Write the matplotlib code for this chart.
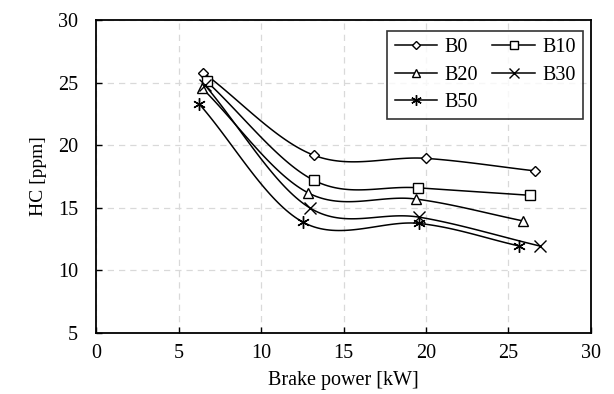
import matplotlib
matplotlib.use("Agg")
import matplotlib.pyplot as plt
import numpy as np

plt.rcParams['font.family'] = ['Liberation Serif', 'DejaVu Serif']
plt.rcParams['font.size'] = 13.5

series = ["B0", "B10", "B20", "B30", "B50"]
markers = ["D", "s", "^", "x", (6, 2, 0)]
power = {
    "B0":  [6.5, 13.2, 20.0, 26.6],
    "B10": [6.7, 13.2, 19.5, 26.3],
    "B20": [6.4, 12.85, 19.4, 25.9],
    "B30": [6.6, 12.95, 19.6, 26.9],
    "B50": [6.25, 12.55, 19.6, 25.65],
}
hc = {
    "B0":  [25.8, 19.2, 18.95, 17.95],
    "B10": [25.1, 17.2, 16.6, 16.0],
    "B20": [24.6, 16.2, 15.7, 13.95],
    "B30": [24.8, 15.0, 14.25, 11.95],
    "B50": [23.3, 13.85, 13.75, 11.95],
}


def smooth(x, y, n=40):
    # Excel-like smoothed line (Catmull-Rom through the points)
    x = np.asarray(x, float)
    y = np.asarray(y, float)
    px = np.concatenate([[2 * x[0] - x[1]], x, [2 * x[-1] - x[-2]]])
    py = np.concatenate([[2 * y[0] - y[1]], y, [2 * y[-1] - y[-2]]])
    xs, ys = [], []
    t = np.linspace(0, 1, n)
    for i in range(1, len(px) - 2):
        for p, out in ((px, xs), (py, ys)):
            p0, p1, p2, p3 = p[i - 1], p[i], p[i + 1], p[i + 2]
            c1 = p1 + (p2 - p0) / 6
            c2 = p2 - (p3 - p1) / 6
            out.append((1 - t) ** 3 * p1 + 3 * (1 - t) ** 2 * t * c1
                       + 3 * (1 - t) * t ** 2 * c2 + t ** 3 * p2)
    return np.concatenate(xs), np.concatenate(ys)


fig = plt.figure(figsize=(6.14, 3.94), dpi=100)
ax = fig.add_axes([0.1564, 0.1548, 0.8061, 0.7944])

handles = {}
sizes = {"B0": 5, "B10": 7, "B20": 7, "B30": 8, "B50": 9}
for s, m in zip(series, markers):
    sx, sy = smooth(power[s], hc[s])
    ax.plot(sx, sy, color='black', lw=1.1)
    ms = sizes[s]
    ax.plot(power[s], hc[s], linestyle='none', marker=m, ms=ms,
            mfc='white', mec='black', mew=1.0)
    handles[s], = ax.plot([], [], color='black', lw=1.1, marker=m, ms=ms * 0.85,
                          mfc='white', mec='black', mew=1.0, label=s)

ax.set_xlim(0, 30)
ax.set_ylim(5, 30)
ax.set_xticks(range(0, 31, 5))
ax.set_yticks(range(5, 31, 5))
ax.grid(True, color='#d9d9d9', linestyle=(0, (5, 4)), lw=0.9)
ax.tick_params(direction='in', length=4, width=1, pad=8, labelsize=14.5)
ax.tick_params(axis='y', pad=13)
for sp in ax.spines.values():
    sp.set_linewidth(1.3)

ax.set_xlabel("Brake power [kW]", fontsize=14.5, labelpad=6)
ax.set_ylabel("HC [ppm]", fontsize=14, labelpad=8)

# row-wise legend order
order = ["B0", "B20", "B50", "B10", "B30"]
leg = ax.legend([handles[k] for k in order], order, ncol=2, loc='upper right',
                bbox_to_anchor=(0.9846, 0.9649), fontsize=14.5,
                frameon=True, fancybox=False, edgecolor='black',
                handlelength=2.1, handletextpad=0.4, columnspacing=0.7,
                borderpad=0.35, labelspacing=0.42, borderaxespad=0)
leg.get_frame().set_linewidth(1.2)

fig.savefig("out.png", dpi=100)
